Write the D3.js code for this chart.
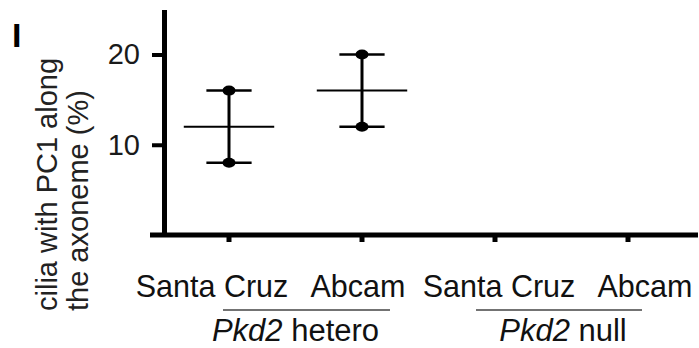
<!DOCTYPE html>
<html>
<head>
<meta charset="utf-8">
<script src="https://cdn.jsdelivr.net/npm/d3@7"></script>
<style>
  body { margin: 0; background: #fff; }
  svg { display: block; font-family: "Liberation Sans", Arial, sans-serif; }
</style>
</head>
<body>
<div id="chart"></div>
<script>
// antibody per column, genotype group per column
const antibodies = ['Santa Cruz', 'Abcam', 'Santa Cruz', 'Abcam'];
const genotypes = ['hetero', 'hetero', 'null', 'null'];
// individual experiments (%), mean line
const points = [[16, 8], [20, 12], [], []];
const means = [12, 16, null, null];
const yTicks = [10, 20];
const groupNames = ['hetero', 'null'];

const width = 699, height = 348;
const svg = d3.select('#chart').append('svg')
  .attr('width', width)
  .attr('height', height);

const keys = antibodies.map((a, i) => i);
const x = d3.scaleBand().domain(keys).range([162.5, 694.5]);
const cx = i => x(i) + x.bandwidth() / 2;
const y = d3.scaleLinear().domain([0, 25]).range([235, 9.4]);

// y axis
const gy = svg.append('g')
  .attr('transform', 'translate(164,0)')
  .call(d3.axisLeft(y).tickValues(yTicks).tickSize(12).tickSizeOuter(0).tickPadding(12).tickFormat(d3.format('d')));
gy.select('.domain').attr('stroke', '#000').attr('stroke-width', 5);
gy.selectAll('.tick line').attr('stroke', '#000').attr('stroke-width', 4);
gy.selectAll('.tick text').attr('font-size', 29).attr('fill', '#1a1a1a').attr('font-family', null);

// x axis
const gx = svg.append('g')
  .attr('transform', 'translate(0,235)')
  .call(d3.axisBottom(x).tickSize(7).tickSizeOuter(0).tickFormat(i => antibodies[i]));
gx.select('.domain').remove();
gx.append('line')
  .attr('x1', 150).attr('x2', 698)
  .attr('stroke', '#000').attr('stroke-width', 5);
gx.selectAll('.tick line').attr('stroke', '#000').attr('stroke-width', 5);
const labelShift = [-17, -4, 4, 17];
gx.selectAll('.tick text')
  .attr('y', 62).attr('dy', 0)
  .attr('dx', i => labelShift[i])
  .attr('font-size', 30.5).attr('fill', '#111').attr('font-family', null);

// group brackets
const groupShift = { hetero: [-6, 28, -11], null: [-19, 14, 4] };
groupNames.forEach(g => {
  const idx = keys.filter(i => genotypes[i] === g);
  const s = groupShift[g];
  const x1 = cx(idx[0]) + s[0], x2 = cx(idx[idx.length - 1]) + s[1];
  svg.append('line')
    .attr('x1', x1).attr('x2', x2).attr('y1', 310).attr('y2', 310)
    .attr('stroke', '#444').attr('stroke-width', 1.5);
  const t = svg.append('text')
    .attr('x', (x1 + x2) / 2 + s[2]).attr('y', 341)
    .attr('text-anchor', 'middle')
    .attr('font-size', 31).attr('fill', '#111');
  t.append('tspan').attr('font-style', 'italic').text('Pkd2');
  t.append('tspan').text(' ' + g);
});

// mean + range bars
const marks = svg.append('g');
keys.forEach(i => {
  const c = cx(i);
  const bw = x.bandwidth();
  if (means[i] != null) {
    marks.append('line')
      .attr('x1', c - bw * 0.34).attr('x2', c + bw * 0.34)
      .attr('y1', y(means[i])).attr('y2', y(means[i]))
      .attr('stroke', '#000').attr('stroke-width', 2);
  }
  if (points[i].length) {
    const [lo, hi] = d3.extent(points[i]);
    marks.append('line')
      .attr('x1', c).attr('x2', c)
      .attr('y1', y(lo)).attr('y2', y(hi))
      .attr('stroke', '#000').attr('stroke-width', 3);
    [lo, hi].forEach(v => {
      marks.append('line')
        .attr('x1', c - bw * 0.17).attr('x2', c + bw * 0.17)
        .attr('y1', y(v)).attr('y2', y(v))
        .attr('stroke', '#000').attr('stroke-width', 2.5);
    });
    marks.selectAll(null)
      .data(points[i]).enter()
      .append('ellipse')
      .attr('cx', c).attr('cy', d => y(d))
      .attr('rx', 6.5).attr('ry', 5)
      .attr('fill', '#000');
  }
});

// y label
const yl = svg.append('text')
  .attr('transform', 'translate(57,311) rotate(-90)')
  .attr('font-size', 29).attr('fill', '#222');
yl.append('tspan').attr('x', 0).attr('y', 0).text('cilia with PC1 along');
yl.append('tspan').attr('x', 0).attr('y', 31).text('the axoneme (%)');

// panel letter
svg.append('text')
  .attr('x', 12).attr('y', 47)
  .attr('font-size', 34).attr('font-weight', 'bold')
  .text('I');
</script>
</body>
</html>
